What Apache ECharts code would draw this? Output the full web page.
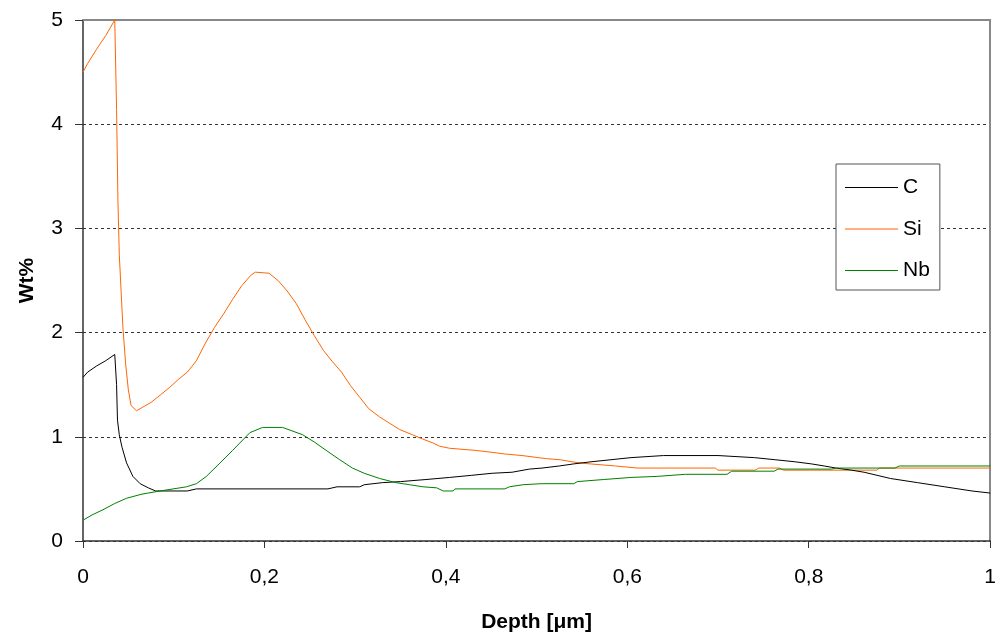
<!DOCTYPE html>
<html>
<head>
<meta charset="utf-8">
<script src="https://cdn.jsdelivr.net/npm/echarts@6/dist/echarts.min.js"></script>
<style>html,body{margin:0;padding:0;background:#fff}#chart{width:999px;height:644px}</style>
</head>
<body>
<div id="chart"></div>
<script>
var seriesNames = ['C', 'Si', 'Nb'];
var xTicks = [0, 0.2, 0.4, 0.6, 0.8, 1];
var yTicks = [0, 1, 2, 3, 4, 5];

var depthC = [0, 0.005, 0.015, 0.025, 0.035, 0.036, 0.037, 0.038, 0.040, 0.043, 0.048, 0.055, 0.063, 0.072, 0.080, 0.115, 0.125, 0.27, 0.28, 0.305, 0.31, 0.33, 0.35, 0.378, 0.404, 0.428, 0.451, 0.473, 0.492, 0.506, 0.525, 0.541, 0.56, 0.582, 0.604, 0.64, 0.70, 0.74, 0.763, 0.785, 0.803, 0.817, 0.83, 0.847, 0.861, 0.89, 0.92, 0.95, 0.98, 1.0];
var valC   = [1.57, 1.62, 1.68, 1.73, 1.79, 1.80, 1.50, 1.16, 1.02, 0.90, 0.75, 0.62, 0.55, 0.51, 0.48, 0.48, 0.50, 0.50, 0.52, 0.52, 0.54, 0.56, 0.57, 0.59, 0.61, 0.63, 0.65, 0.66, 0.69, 0.70, 0.72, 0.74, 0.76, 0.78, 0.80, 0.82, 0.82, 0.80, 0.78, 0.76, 0.74, 0.72, 0.70, 0.68, 0.66, 0.60, 0.56, 0.52, 0.48, 0.46];

var depthSi = [0, 0.005, 0.015, 0.025, 0.035, 0.036, 0.037, 0.0385, 0.040, 0.042, 0.044, 0.047, 0.050, 0.053, 0.059, 0.065, 0.075, 0.085, 0.095, 0.105, 0.115, 0.125, 0.135, 0.145, 0.155, 0.165, 0.175, 0.185, 0.190, 0.205, 0.215, 0.225, 0.235, 0.245, 0.255, 0.265, 0.275, 0.285, 0.295, 0.305, 0.315, 0.327, 0.349, 0.363, 0.374, 0.386, 0.393, 0.404, 0.432, 0.452, 0.465, 0.484, 0.511, 0.526, 0.539, 0.552, 0.587, 0.611, 0.697, 0.70, 0.741, 0.745, 0.768, 0.772, 0.875, 0.878, 1.0];
var valSi   = [4.50, 4.58, 4.72, 4.85, 5.00, 5.00, 4.14, 3.27, 2.75, 2.40, 2.05, 1.70, 1.45, 1.30, 1.25, 1.28, 1.33, 1.40, 1.47, 1.55, 1.62, 1.73, 1.90, 2.05, 2.18, 2.32, 2.45, 2.55, 2.58, 2.57, 2.50, 2.40, 2.28, 2.12, 1.97, 1.83, 1.72, 1.62, 1.49, 1.38, 1.27, 1.19, 1.07, 1.02, 0.98, 0.94, 0.91, 0.89, 0.87, 0.85, 0.835, 0.82, 0.79, 0.78, 0.76, 0.745, 0.72, 0.70, 0.70, 0.68, 0.68, 0.70, 0.70, 0.68, 0.68, 0.70, 0.70];

var depthNb = [0, 0.01, 0.022, 0.035, 0.048, 0.065, 0.085, 0.114, 0.125, 0.136, 0.150, 0.165, 0.184, 0.198, 0.220, 0.242, 0.255, 0.268, 0.283, 0.297, 0.310, 0.327, 0.345, 0.36, 0.375, 0.39, 0.397, 0.408, 0.41, 0.465, 0.47, 0.485, 0.505, 0.541, 0.545, 0.574, 0.604, 0.633, 0.664, 0.71, 0.715, 0.762, 0.766, 0.825, 0.83, 0.895, 0.90, 1.0];
var valNb   = [0.20, 0.25, 0.30, 0.36, 0.41, 0.45, 0.48, 0.52, 0.55, 0.62, 0.74, 0.87, 1.04, 1.09, 1.09, 1.02, 0.95, 0.87, 0.78, 0.70, 0.65, 0.60, 0.56, 0.54, 0.52, 0.51, 0.48, 0.48, 0.50, 0.50, 0.52, 0.54, 0.55, 0.55, 0.57, 0.59, 0.61, 0.62, 0.64, 0.64, 0.67, 0.67, 0.69, 0.69, 0.70, 0.70, 0.72, 0.72];

function pairs(xs, ys) { return xs.map(function (x, i) { return [x, ys[i]]; }); }

var colors = ['#000000', '#FF6600', '#008000'];
var font = 'Liberation Sans, Arial, sans-serif';

var chart = echarts.init(document.getElementById('chart'), null, { renderer: 'canvas' });
chart.setOption({
  animation: false,
  backgroundColor: '#ffffff',
  color: colors,
  grid: { left: 83, right: 7, top: 20, bottom: 103, containLabel: false },
  legend: {
    orient: 'vertical',
    left: 836, top: 164,
    padding: [13, 10, 9, 9],
    icon: 'path://M0,0H53V1H0Z',
    itemWidth: 53, itemHeight: 1, itemGap: 20.5, itemTextGap: 9,
    borderColor: '#555', borderWidth: 1,
    backgroundColor: '#ffffff',
    data: seriesNames,
    textStyle: { fontFamily: font, fontSize: 21, color: '#000', lineHeight: 20 }
  },
  xAxis: [{
    type: 'value', min: xTicks[0], max: xTicks[xTicks.length - 1], interval: 0.2,
    name: 'Depth [\u03bcm]', nameLocation: 'middle', nameGap: 71,
    nameTextStyle: { fontFamily: font, fontSize: 21, fontWeight: 'bold', color: '#000' },
    axisLine: { onZero: false, lineStyle: { color: '#333', width: 1.5 } },
    axisTick: { show: true, length: 7, lineStyle: { color: '#333' } },
    axisLabel: { margin: 26, fontFamily: font, fontSize: 21, color: '#000',
      formatter: function (v) { return String(v).replace('.', ','); } },
    splitLine: { show: false }
  }, {
    type: 'value', position: 'top', min: 0, max: 1,
    axisLine: { show: true, onZero: false, lineStyle: { color: '#888', width: 2 } },
    axisTick: { show: false }, axisLabel: { show: false }, splitLine: { show: false }
  }],
  yAxis: [{
    type: 'value', min: yTicks[0], max: yTicks[yTicks.length - 1], interval: 1,
    name: 'Wt%', nameLocation: 'middle', nameGap: 45,
    nameTextStyle: { fontFamily: font, fontSize: 21, fontWeight: 'bold', color: '#000' },
    axisLine: { show: true, onZero: false, lineStyle: { color: '#333', width: 1.5 } },
    axisTick: { show: true, length: 8, lineStyle: { color: '#333' } },
    axisLabel: { margin: 20, fontFamily: font, fontSize: 21, color: '#000' },
    splitLine: { show: true, lineStyle: { color: '#333', width: 1, type: [3, 3] } }
  }, {
    type: 'value', position: 'right', min: 0, max: 5,
    axisLine: { show: true, onZero: false, lineStyle: { color: '#888', width: 2 } },
    axisTick: { show: false }, axisLabel: { show: false }, splitLine: { show: false }
  }],
  series: [
    { name: 'C', type: 'line', data: pairs(depthC, valC), symbol: 'none', lineStyle: { width: 1, color: colors[0] }, z: 3 },
    { name: 'Si', type: 'line', data: pairs(depthSi, valSi), symbol: 'none', lineStyle: { width: 1, color: colors[1] }, z: 2 },
    { name: 'Nb', type: 'line', data: pairs(depthNb, valNb), symbol: 'none', lineStyle: { width: 1, color: colors[2] }, z: 4 }
  ]
});
</script>
</body>
</html>
